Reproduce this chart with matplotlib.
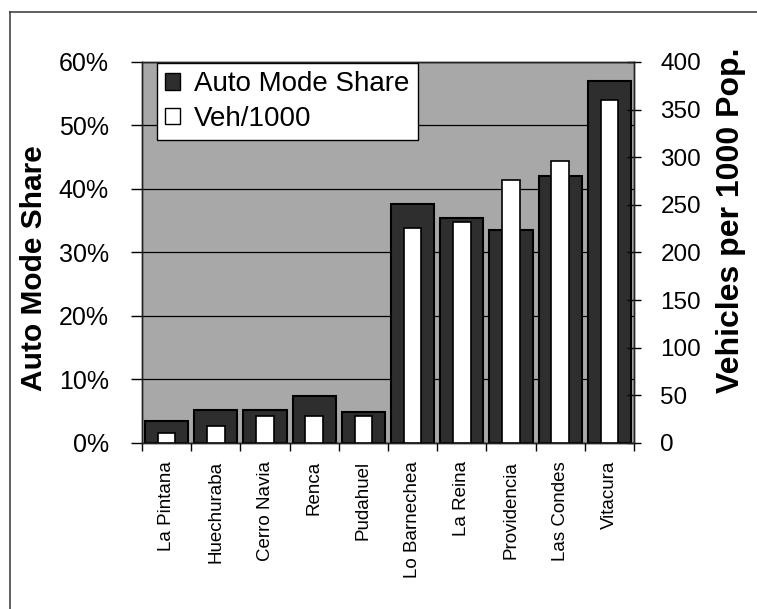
import numpy as np
import matplotlib
matplotlib.use("Agg")
import matplotlib.pyplot as plt
from matplotlib.lines import Line2D
from matplotlib.patches import Patch

plt.rcParams["font.family"] = ["Liberation Sans", "DejaVu Sans"]

# =========================
# Data
# =========================
communes = ["La Pintana", "Huechuraba", "Cerro Navia", "Renca", "Pudahuel",
            "Lo Barnechea", "La Reina", "Providencia", "Las Condes", "Vitacura"]
auto_share = [3.5, 5.2, 5.2, 7.4, 4.9, 37.6, 35.5, 33.6, 42.0, 57.0]   # %
veh_per_1000 = [10, 18, 28, 28, 28, 226, 232, 276, 296, 360]

left_ticks = [0, 10, 20, 30, 40, 50, 60]
right_ticks = [0, 50, 100, 150, 200, 250, 300, 350, 400]

BG = "#a8a8a8"
DARK = "#2e2e2e"

# =========================
# Figure
# =========================
fig = plt.figure(figsize=(7.57, 6.09), dpi=100)
ax = fig.add_axes([0.1876, 0.2726, 0.6499, 0.6256])
ax2 = ax.twinx()

x = np.arange(len(communes))

ax.set_facecolor(BG)
ax.bar(x, auto_share, width=0.88, color=DARK, edgecolor="black",
       linewidth=1.5, zorder=2)
ax.set_ylim(0, 60)
ax.set_xlim(-0.5, len(communes) - 0.5)
ax.set_yticks(left_ticks)
ax.set_yticklabels([f"{t}%" for t in left_ticks])
ax.grid(axis="y", color="black", linewidth=0.9, zorder=1)
ax.set_axisbelow(True)

ax2.bar(x, veh_per_1000, width=0.36, color="white", edgecolor="black",
        linewidth=1.2, zorder=3)
ax2.set_ylim(0, 400)
ax2.set_yticks(right_ticks)

# category boundary ticks on x axis, labels at centres
ax.set_xticks(np.arange(len(communes) + 1) - 0.5)
ax.set_xticklabels([])
ax.set_xticks(x, minor=True)
ax.set_xticklabels(communes, minor=True, rotation=90, fontsize=13.5,
                   va="top", ha="center")
ax.tick_params(axis="x", which="minor", length=0, pad=13)
ax.tick_params(axis="x", which="major", length=6, width=1, direction="out")

ax.tick_params(axis="y", labelsize=18, length=8, width=1, pad=16)
ax2.tick_params(axis="y", labelsize=17.5, length=10, width=1, pad=14,
                direction="inout")

for a in (ax, ax2):
    for s in a.spines.values():
        s.set_color("#222222")
        s.set_linewidth(1.0)

fig.text(0.045, 0.56, "Auto Mode Share", rotation=90, fontsize=21.5,
         fontweight="bold", ha="center", va="center")
fig.text(0.965, 0.638, "Vehicles per 1000 Pop.", rotation=90, fontsize=23,
         fontweight="bold", ha="center", va="center")

handles = [Patch(facecolor=DARK, edgecolor="black", linewidth=1),
           Patch(facecolor="white", edgecolor="black", linewidth=1)]
leg = ax.legend(handles, ["Auto Mode Share", "Veh/1000"],
                loc="upper left", bbox_to_anchor=(0.03, 0.997),
                fontsize=20, frameon=True, fancybox=False, framealpha=1,
                edgecolor="black", handlelength=0.55, handleheight=0.55,
                handletextpad=0.5, labelspacing=0.3, borderpad=0.3,
                borderaxespad=0)
leg.get_frame().set_linewidth(1.0)
leg.set_zorder(10)

# outer frame of the original figure
fig.add_artist(Line2D([10 / 757, 10 / 757], [0, 1 - 12 / 609],
                      color="#444444", linewidth=1.2))
fig.add_artist(Line2D([10 / 757, 1], [1 - 12 / 609, 1 - 12 / 609],
                      color="#444444", linewidth=1.2))

fig.savefig("out.png", dpi=100)
